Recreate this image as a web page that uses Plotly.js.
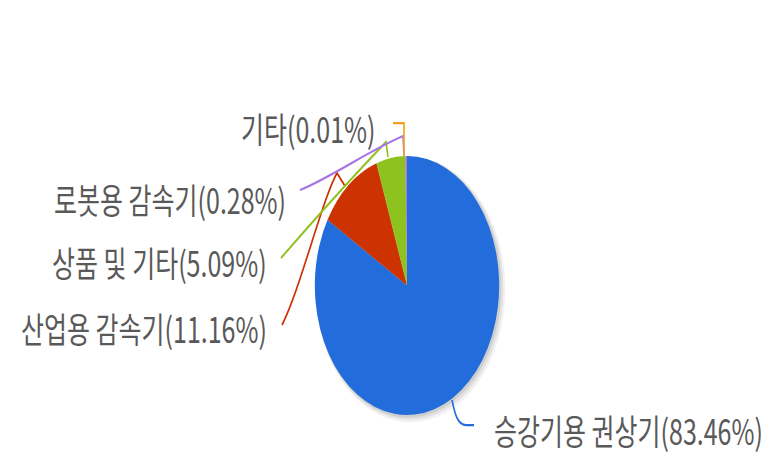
<!DOCTYPE html>
<html>
<head>
<meta charset="utf-8">
<script src="https://cdn.plot.ly/plotly-3.0.1.min.js"></script>
<style>
  html, body { margin: 0; padding: 0; background: #fff; }
  body { width: 773px; height: 458px; }
  /* the source picture is stretched vertically, so draw flat and stretch the whole div */
  #chart { width: 773px; height: 326px; transform: scaleY(1.405); transform-origin: 0 0; }
</style>
</head>
<body>
<div id="chart"></div>
<script>
// data
const labels = ['승강기용 권상기', '산업용 감속기', '상품 및 기타', '로봇용 감속기', '기타'];
const shares = [83.46, 11.16, 5.09, 0.28, 0.01];
const colors = ['#236CDB', '#CC3300', '#8DC21F', '#A874E6', '#F5A01A'];

// reference picture is 773 x 458, convert its pixels into paper fractions
const W = 773, H = 458;
const px = x => x / W;
const py = y => 1 - y / H;

function toPath(segs) {
    return segs.map(s => typeof s === 'string' ? s : px(s[0]) + ',' + py(s[1])).join(' ');
}

// leader lines, one per label (reference pixels)
const leaders = [
    ['M', [452, 400], 'C', [455, 415], [458, 425], [466, 425], 'L', [474, 425]],
    ['M', [282, 325], 'C', [300, 290], [322, 200], [337, 173], 'L', [345, 186]],
    ['M', [281, 258], 'Q', [340, 190], [386, 142], 'L', [388, 157]],
    ['M', [300, 190], 'C', [330, 178], [370, 150], [403, 136], 'L', [404, 156]],
    ['M', [393, 123], 'L', [404, 123], 'L', [404, 156]]
];
// label anchor points (reference pixels)
const anchors = [
    { x: 492, y: 430, side: 'left' },
    { x: 269, y: 328, side: 'right' },
    { x: 269, y: 262, side: 'right' },
    { x: 288, y: 198, side: 'right' },
    { x: 378, y: 128, side: 'right' }
];

const cx = 407, cy = 285.5, rx = 92.3, ry = 129.5;

let shapes = [];
// soft shadow behind the pie
[[6, 0.10], [4, 0.14], [2, 0.2]].forEach(([d, op]) => {
    shapes.push({
        type: 'circle', xref: 'paper', yref: 'paper', layer: 'below',
        x0: px(cx - rx + 1), x1: px(cx + rx + d),
        y0: py(cy + ry + d * 1.2), y1: py(cy - ry + 1),
        fillcolor: '#808080', opacity: op, line: { width: 0 }
    });
});
leaders.forEach((seg, i) => {
    shapes.push({
        type: 'path', xref: 'paper', yref: 'paper', path: toPath(seg),
        line: { color: colors[i], width: 1.6 }
    });
});

const annotations = labels.map((lab, i) => ({
    xref: 'paper', yref: 'paper',
    x: px(anchors[i].x), y: py(anchors[i].y),
    xanchor: anchors[i].side, yanchor: 'middle',
    text: lab + '(' + shares[i].toFixed(2) + '%)',
    showarrow: false,
    font: { family: '"Noto Sans CJK KR", sans-serif', size: 25, color: '#595959' }
}));

const data = [{
    type: 'pie',
    values: shares,
    labels: labels,
    sort: false,
    direction: 'clockwise',
    rotation: 0,
    textinfo: 'none',
    hoverinfo: 'none',
    marker: { colors: colors, line: { width: 0 } },
    domain: { x: [px(cx - rx), px(cx + rx)], y: [py(cy + ry), py(cy - ry)] }
}];

const layout = {
    width: 773,
    height: 326,
    margin: { l: 0, r: 0, t: 0, b: 0 },
    paper_bgcolor: '#ffffff',
    showlegend: false,
    shapes: shapes,
    annotations: annotations
};

Plotly.newPlot('chart', data, layout, { displayModeBar: false, staticPlot: true });
</script>
</body>
</html>
